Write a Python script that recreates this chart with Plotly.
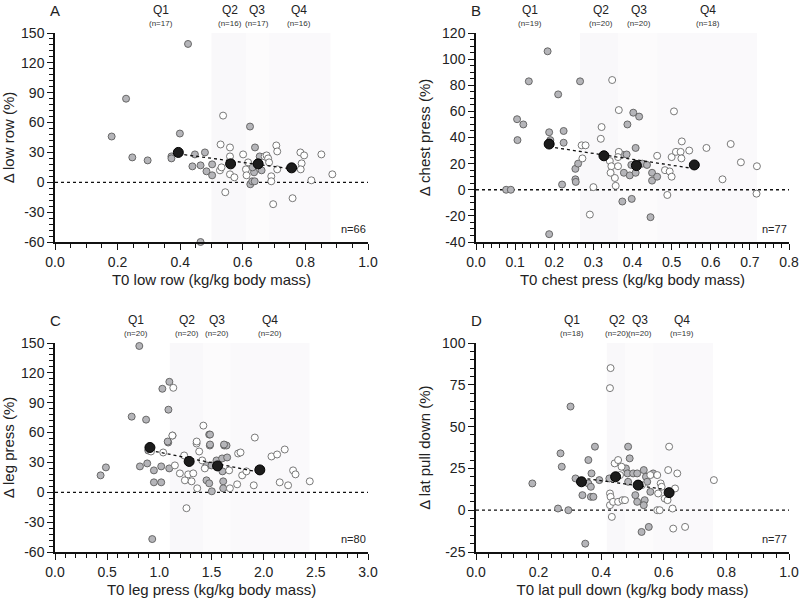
import numpy as np
import plotly.graph_objects as go

# ---------------- DATA ----------------
# Panel A: low row
a_gray_x = [0.181, 0.247, 0.296, 0.372, 0.372, 0.399, 0.447, 0.479, 0.439, 0.465, 0.484, 0.502, 0.502,
            0.624, 0.630, 0.638, 0.639, 0.636, 0.631, 0.654, 0.660, 0.465, 0.425, 0.227, 0.623]
a_gray_y = [46, 25, 22, 26, 24, 49, 28, 30, 16, 17, 11, 18, 7,
            -2, 1, 1, 35, 10, 15, 26, 12, -60, 139, 84, 56]
a_white_x = [0.527, 0.529, 0.532, 0.559, 0.559, 0.559, 0.573, 0.544, 0.601, 0.610, 0.612, 0.617, 0.670, 0.676,
             0.681, 0.684, 0.691, 0.697, 0.707, 0.710, 0.710, 0.691, 0.759, 0.784, 0.788, 0.785, 0.796,
             0.819, 0.851, 0.886, 0.537]
a_white_y = [12, 38, 15, 35, 26, 8, 5, -10, 28, 13, 7, 20, 26, 27,
             24, 20, 6, -22, 37, 31, 13, 1, -16, 30, 19, 13, 27,
             2, 28, 8, 67]
a_mean_x = [0.394, 0.561, 0.649, 0.756]
a_mean_y = [30, 18.5, 18.5, 14.5]

# Panel B: chest press
b_gray_x = [0.077, 0.089, 0.106, 0.187, 0.224, 0.224, 0.187, 0.220, 0.254, 0.261, 0.254, 0.255, 0.372,
            0.385, 0.408, 0.397, 0.378, 0.393, 0.408, 0.374, 0.398, 0.425, 0.437, 0.450, 0.450, 0.463,
            0.446, 0.183, 0.135, 0.210, 0.105, 0.121, 0.266, 0.190, 0.402, 0.417, 0.387]
b_gray_y = [0, 0, 38, 44, 45, 36, -34, 4, 16, 20, 8, 6, 27,
            27, 32, 19, 13, 11, 13, -9, -7, 20, 19, 13, 7, 10,
            -21, 106, 83, 73, 54, 50, 83, 38, 59, 56, 50]
b_white_x = [0.270, 0.280, 0.272, 0.291, 0.300, 0.319, 0.342, 0.346, 0.344, 0.355, 0.357, 0.365, 0.363,
             0.363, 0.408, 0.463, 0.483, 0.495, 0.500, 0.500, 0.511, 0.523, 0.525, 0.526, 0.545, 0.489,
             0.589, 0.630, 0.651, 0.677, 0.718, 0.717, 0.348, 0.365, 0.321, 0.506]
b_white_y = [34, 34, 24, -19, 2, 39, 22, 18, 13, 9, 3, 29, 18,
             25, 20, 26, 15, 14, 10, 25, 29, 29, 24, 37, 30, -4,
             32, 8, 35, 21, 18, -3, 84, 61, 48, 60]
b_mean_x = [0.187, 0.327, 0.410, 0.558]
b_mean_y = [35, 26, 18.5, 19]

# Panel C: leg press
c_gray_x = [0.437, 0.488, 0.814, 0.884, 0.894, 0.948, 0.948, 1.018, 1.018, 1.085, 1.095, 0.932, 1.478,
            1.484, 1.452, 1.500, 1.452, 1.478, 1.503, 1.548, 1.602, 1.650, 1.605, 1.622, 1.644, 1.612,
            1.612, 0.808, 0.735, 0.873, 1.029, 1.096, 1.087, 1.080, 1.486, 1.486, 1.620]
c_gray_y = [17, 25, 26, 29, 42, 22, 10, 26, 10, 50, 24, -47, 58,
            47, 27, 27, 12, 9, 1, 32, 34, 35, 21, 47, 47, 11,
            4, 147, 76, 73, 104, 111, 83, 51, 58, 48, 48]
c_white_x = [1.127, 1.149, 1.037, 1.197, 1.238, 1.245, 1.260, 1.277, 1.309, 1.325, 1.357, 1.363, 1.382,
             1.411, 1.436, 1.669, 1.676, 1.746, 1.755, 1.778, 1.794, 1.835, 1.905, 1.915, 2.075, 2.129,
             2.154, 2.202, 2.234, 2.282, 2.305, 2.442, 1.134, 1.125, 1.358, 1.422, 0.92]
c_white_y = [57, 27, 40, 19, 37, 12, -16, 18, 11, 19, 49, 4, 41,
             32, 24, 22, 4, 8, 39, 40, 17, 21, 7, 55, 36, 38,
             10, 43, 7, 22, 18, 11, 105, 57, 51, 67, 41]
c_mean_x = [0.910, 1.286, 1.558, 1.963]
c_mean_y = [45, 31, 26.5, 22.5]

# Panel D: lat pull down
d_gray_x = [0.180, 0.262, 0.295, 0.270, 0.274, 0.318, 0.340, 0.349, 0.359, 0.359, 0.367, 0.369, 0.367,
            0.375, 0.380, 0.394, 0.426, 0.486, 0.491, 0.479, 0.484, 0.486, 0.502, 0.515, 0.509, 0.515,
            0.536, 0.543, 0.547, 0.539, 0.536, 0.529, 0.552, 0.557, 0.566, 0.302]
d_gray_y = [16, 1, 0, 34, 26, 19, 9, -20, 30, 16, 14, 22, 8,
            8, 38, 18, 19, 38, 31, 25, 22, 17, 22, 22, 9, 5,
            24, 20, 17, 6, 3, -13, -10, 11, 22, 62]
d_white_x = [0.428, 0.428, 0.430, 0.438, 0.434, 0.443, 0.454, 0.465, 0.460, 0.454, 0.468, 0.476, 0.530,
             0.557, 0.579, 0.582, 0.579, 0.587, 0.590, 0.593, 0.603, 0.612, 0.617, 0.614, 0.628, 0.636,
             0.643, 0.630, 0.668, 0.760, 0.430, 0.428]
d_white_y = [10, 3, 8, 5, -4, 28, 30, 26, 21, 5, 6, 6, 15,
             21, 21, 10, 0, 0, 16, 14, 7, 6, 38, 24, 1, 13,
             22, -11, -10, 18, 85, 73]
d_mean_x = [0.337, 0.446, 0.518, 0.617]
d_mean_y = [17, 20, 15, 10.5]

# Quartile labels
q_names = ["Q1", "Q2", "Q3", "Q4"]
a_q_n = ["(n=17)", "(n=16)", "(n=17)", "(n=16)"]
b_q_n = ["(n=19)", "(n=20)", "(n=20)", "(n=18)"]
c_q_n = ["(n=20)", "(n=20)", "(n=20)", "(n=20)"]
d_q_n = ["(n=18)", "(n=20)", "(n=20)", "(n=19)"]
a_q_x = [0.339, 0.559, 0.645, 0.780]
b_q_x = [0.138, 0.319, 0.417, 0.593]
c_q_x = [0.776, 1.265, 1.553, 2.061]
d_q_x = [0.307, 0.450, 0.524, 0.658]
# quartile band edges (x data)
a_bands = [0.50, 0.61, 0.684, 0.88]
b_bands = [0.266, 0.363, 0.463, 0.718]
c_bands = [1.10, 1.42, 1.68, 2.44]
d_bands = [0.418, 0.476, 0.566, 0.757]

# Axis tick values / labels
a_xticks = [0.0, 0.2, 0.4, 0.6, 0.8, 1.0]
a_yticks = [-60, -30, 0, 30, 60, 90, 120, 150]
b_xticks = [0.0, 0.1, 0.2, 0.3, 0.4, 0.5, 0.6, 0.7, 0.8]
b_yticks = [-40, -20, 0, 20, 40, 60, 80, 100, 120]
c_xticks = [0.0, 0.5, 1.0, 1.5, 2.0, 2.5, 3.0]
c_yticks = [-60, -30, 0, 30, 60, 90, 120, 150]
d_xticks = [0.0, 0.2, 0.4, 0.6, 0.8, 1.0]
d_yticks = [-25, 0, 25, 50, 75, 100]

a_xtitle, a_ytitle = "T0 low row (kg/kg body mass)", "Δ low row (%)"
b_xtitle, b_ytitle = "T0 chest press (kg/kg body mass)", "Δ chest press (%)"
c_xtitle, c_ytitle = "T0 leg press (kg/kg body mass)", "Δ leg press (%)"
d_xtitle, d_ytitle = "T0 lat pull down (kg/kg body mass)", "Δ lat pull down (%)"
n_totals = ["n=66", "n=77", "n=80", "n=77"]
letters = ["A", "B", "C", "D"]

# ---------------- FIGURE ----------------
FONT = "Liberation Sans, Arial, sans-serif"
W, H = 800, 600
# pixel geometry for each panel: (x_left, x_right, y_top, y_bottom)
geo = [(55, 368, 33, 242), (476, 789, 33, 242), (55, 368, 343, 552), (476, 789, 343, 552)]

panels = [
    dict(gx=a_gray_x, gy=a_gray_y, wx=a_white_x, wy=a_white_y, mx=a_mean_x, my=a_mean_y,
         qx=a_q_x, qn=a_q_n, bands=a_bands, xt=a_xticks, yt=a_yticks, xr=[0, 1.0], yr=[-60, 150],
         xminor=0.05, yminor=6, xtitle=a_xtitle, ytitle=a_ytitle),
    dict(gx=b_gray_x, gy=b_gray_y, wx=b_white_x, wy=b_white_y, mx=b_mean_x, my=b_mean_y,
         qx=b_q_x, qn=b_q_n, bands=b_bands, xt=b_xticks, yt=b_yticks, xr=[0, 0.8], yr=[-40, 120],
         xminor=0.02, yminor=5, xtitle=b_xtitle, ytitle=b_ytitle),
    dict(gx=c_gray_x, gy=c_gray_y, wx=c_white_x, wy=c_white_y, mx=c_mean_x, my=c_mean_y,
         qx=c_q_x, qn=c_q_n, bands=c_bands, xt=c_xticks, yt=c_yticks, xr=[0, 3.0], yr=[-60, 150],
         xminor=0.1, yminor=6, xtitle=c_xtitle, ytitle=c_ytitle),
    dict(gx=d_gray_x, gy=d_gray_y, wx=d_white_x, wy=d_white_y, mx=d_mean_x, my=d_mean_y,
         qx=d_q_x, qn=d_q_n, bands=d_bands, xt=d_xticks, yt=d_yticks, xr=[0, 1.0], yr=[-25, 100],
         xminor=0.04, yminor=5, xtitle=d_xtitle, ytitle=d_ytitle),
]

fig = go.Figure()
layout = dict(width=W, height=H, margin=dict(l=0, r=0, t=0, b=0, pad=0, autoexpand=False),
              paper_bgcolor="white", plot_bgcolor="rgba(0,0,0,0)", showlegend=False,
              font=dict(family=FONT, color="#222"))
shapes, annotations = [], []
band_colors = ["#f9f8fa", "#fcfbfc", "#faf9fb"]


def minor_vals(rng, step, major):
    vals = np.arange(rng[0], rng[1] + step / 2, step)
    return [float(round(v, 6)) for v in vals if all(abs(v - m) > step / 10 for m in major)]


for i, p in enumerate(panels):
    k = "" if i == 0 else str(i + 1)
    xa, ya = "x" + k, "y" + k
    x0, x1, y0, y1 = geo[i]
    xdom = [x0 / W, x1 / W]
    ydom = [1 - y1 / H, 1 - y0 / H]
    axis_common = dict(showgrid=False, zeroline=False, showline=True, linecolor="#111", linewidth=1.5,
                       ticks="outside", ticklen=6, tickwidth=1.3, tickcolor="#111", automargin=False,
                       tickfont=dict(size=14, family=FONT, color="#222"))
    layout["xaxis" + k] = dict(axis_common, domain=xdom, range=p["xr"], anchor=ya,
                               tickmode="array", tickvals=p["xt"], ticktext=["%.1f" % v for v in p["xt"]],
                               minor=dict(tickmode="array", tickvals=minor_vals(p["xr"], p["xminor"], p["xt"]),
                                          ticks="outside", ticklen=4, tickwidth=1.1, tickcolor="#111",
                                          showgrid=False),
                               title=dict(text=p["xtitle"], font=dict(size=15, family=FONT, color="#222"),
                                          standoff=6))
    layout["yaxis" + k] = dict(axis_common, domain=ydom, range=p["yr"], anchor=xa,
                               tickmode="array", tickvals=p["yt"], ticktext=[str(v) for v in p["yt"]],
                               minor=dict(tickmode="array", tickvals=minor_vals(p["yr"], p["yminor"], p["yt"]),
                                          ticks="outside", ticklen=4, tickwidth=1.1, tickcolor="#111",
                                          showgrid=False),
                               title=dict(text=p["ytitle"], font=dict(size=15, family=FONT, color="#222"),
                                          standoff=8))
    # quartile bands
    e = p["bands"]
    for j in range(3):
        shapes.append(dict(type="rect", xref=xa, yref=ya + " domain", x0=e[j], x1=e[j + 1], y0=0, y1=1,
                           fillcolor=band_colors[j], line=dict(width=0), layer="below"))
    # zero dashed line
    shapes.append(dict(type="line", xref=xa, yref=ya, x0=p["xr"][0], x1=p["xr"][1], y0=0, y1=0,
                       line=dict(color="#111", width=1.3, dash="3px,3px"), layer="below"))
    # scatter points
    fig.add_trace(go.Scatter(x=p["gx"], y=p["gy"], mode="markers", xaxis=xa, yaxis=ya, cliponaxis=False,
                             marker=dict(size=7, color="#b5b5b9", line=dict(color="#5c5c5c", width=0.9))))
    fig.add_trace(go.Scatter(x=p["wx"], y=p["wy"], mode="markers", xaxis=xa, yaxis=ya, cliponaxis=False,
                             marker=dict(size=7, color="white", line=dict(color="#6a6a6a", width=0.9))))
    # trend line through means
    slope, icpt = np.polyfit(p["mx"], p["my"], 1)
    lx = np.array([min(p["mx"]), max(p["mx"])])
    fig.add_trace(go.Scatter(x=lx, y=slope * lx + icpt, mode="lines", xaxis=xa, yaxis=ya,
                             line=dict(color="#111", width=1.3, dash="3px,3px")))
    fig.add_trace(go.Scatter(x=p["mx"], y=p["my"], mode="markers", xaxis=xa, yaxis=ya, cliponaxis=False,
                             marker=dict(size=10, color="#1c1c1c", line=dict(color="#000", width=1))))
    # quartile labels
    qy = 1 - (y0 - 23) / H
    ny = 1 - (y0 - 10) / H
    for qxv, qname, qn in zip(p["qx"], q_names, p["qn"]):
        annotations.append(dict(x=qxv, xref=xa, y=qy, yref="paper", text=qname, showarrow=False,
                                font=dict(size=12, family=FONT, color="#222"), yanchor="middle"))
        annotations.append(dict(x=qxv, xref=xa, y=ny, yref="paper", text=qn, showarrow=False,
                                font=dict(size=8, family=FONT, color="#333"), yanchor="middle"))
    # panel letter
    annotations.append(dict(x=x0 / W, xref="paper", y=1 - (y0 - 23) / H, yref="paper", text=letters[i],
                            showarrow=False, font=dict(size=15, family=FONT, color="#222"),
                            xanchor="center", yanchor="middle"))
    # n total
    annotations.append(dict(x=1, xref=xa + " domain", y=1 - (y1 - 13) / H, yref="paper", text=n_totals[i],
                            showarrow=False, font=dict(size=11, family=FONT, color="#222"),
                            xanchor="right", yanchor="middle"))

layout["shapes"] = shapes
layout["annotations"] = annotations
fig.update_layout(**layout)
fig.write_html("out.html")
